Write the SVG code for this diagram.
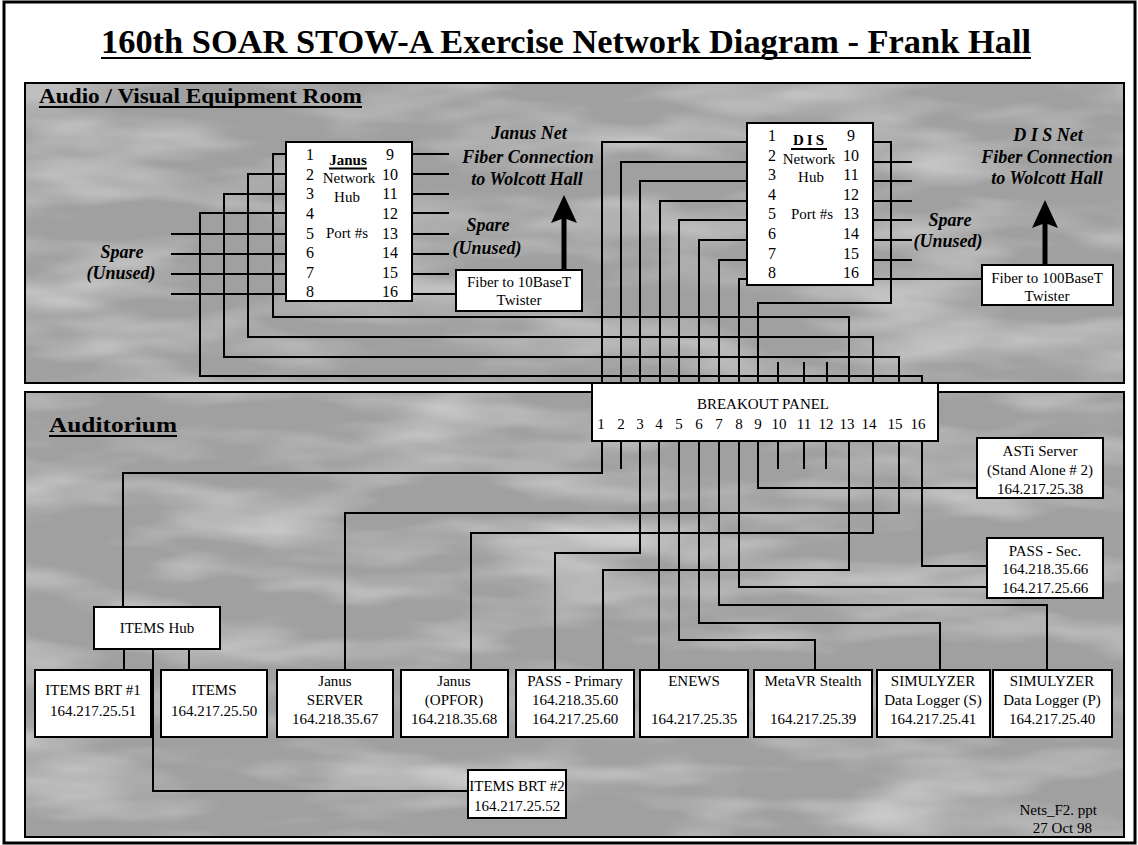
<svg xmlns="http://www.w3.org/2000/svg" width="1138" height="845" viewBox="0 0 1138 845">
<style>
.panel{fill:#a0a0a0;stroke:#000;stroke-width:2}
.box{fill:#fff;stroke:#000;stroke-width:2}
.w{fill:none;stroke:#000;stroke-width:2}
.t{font-family:"Liberation Serif","Times New Roman",serif;fill:#000}
.n{font-size:16px;text-anchor:middle}
.b{font-size:15px;text-anchor:middle}
.bi{font-size:18px;font-weight:bold;font-style:italic;text-anchor:middle}
.ul{stroke:#000;stroke-width:2}
</style>
<defs>
<filter id="mottle" x="0" y="0" width="100%" height="100%">
<feTurbulence type="fractalNoise" baseFrequency="0.006 0.025" numOctaves="3" seed="7" result="n"/>
<feColorMatrix in="n" type="matrix" values="0 0 0 0 1  0 0 0 0 1  0 0 0 0 1  1.0 0 0 0 -0.42"/>
</filter>
</defs>
<rect x="0" y="0" width="1138" height="845" fill="#fff"/>
<g id="frame"><rect x="4" y="2" width="1131" height="841" fill="none" stroke="#000" stroke-width="3"/></g>
<g id="title">
<text class="t" x="101" y="53" font-size="34" font-weight="bold" textLength="930" lengthAdjust="spacingAndGlyphs">160th SOAR STOW-A Exercise Network Diagram - Frank Hall</text>
<line class="ul" x1="101" y1="58" x2="1031" y2="58" stroke-width="2.5"/>
</g>
<g id="av-room">
<rect class="panel" x="25" y="83" width="1099" height="300"/>
<rect x="26" y="84" width="1097" height="298" fill="#fff" filter="url(#mottle)"/>
<text class="t" x="39" y="103" font-size="20" font-weight="bold" textLength="323" lengthAdjust="spacingAndGlyphs">Audio / Visual  Equipment  Room</text>
<line class="ul" x1="39" y1="107" x2="362" y2="107"/>
</g>
<g id="auditorium">
<rect class="panel" x="25" y="392" width="1099" height="445"/>
<rect x="26" y="393" width="1097" height="443" fill="#fff" filter="url(#mottle)"/>
<text class="t" x="49" y="432" font-size="21" font-weight="bold" textLength="128" lengthAdjust="spacingAndGlyphs">Auditorium</text>
<line class="ul" x1="49" y1="436" x2="177" y2="436"/>
</g>
<g id="connectors">
<path class="w" d="M286,154H273V317H849V383"/>
<path class="w" d="M286,174H248V337H873V383"/>
<path class="w" d="M286,194H224V357H899V383"/>
<path class="w" d="M286,213H200V376H922V383"/>
<path class="w" d="M171,234H286M171,254H286M171,274H286M171,294H286"/>
<path class="w" d="M412,154H449M412,174H449M412,194H449M412,213H449M412,234H449M412,254H449M412,274H449M412,294H456"/>
<path class="w" d="M747,142H602V383"/>
<path class="w" d="M747,162H621V383"/>
<path class="w" d="M747,181H640V383"/>
<path class="w" d="M747,201H660V383"/>
<path class="w" d="M747,220H679V383"/>
<path class="w" d="M747,240H699V383"/>
<path class="w" d="M747,260H719V383"/>
<path class="w" d="M747,279H739V383"/>
<path class="w" d="M873,142H891V303H758V383"/>
<path class="w" d="M873,162H912M873,181H912M873,201H912M873,220H912M873,240H912M873,260H912M873,279H982"/>
<path class="w" d="M778,362V383M804,362V383M827,362V383"/>
<path class="w" d="M602,441V473H123V607"/>
<path class="w" d="M621,441V469M778,441V469M804,441V469M826,441V469"/>
<path class="w" d="M640,441V553H555V670"/>
<path class="w" d="M659,441V670"/>
<path class="w" d="M679,441V640H815V670"/>
<path class="w" d="M699,441V623H940V670"/>
<path class="w" d="M719,441V605H1047V670"/>
<path class="w" d="M739,441V587H987"/>
<path class="w" d="M758,441V488H977"/>
<path class="w" d="M849,441V570H603V670"/>
<path class="w" d="M873,441V533H471V670"/>
<path class="w" d="M899,441V513H345V670"/>
<path class="w" d="M922,441V566H987"/>
<path class="w" d="M124,649V670M189,649V670M153,649V791H468"/>
</g>
<g id="janus-hub">
<rect class="box" x="286" y="142" width="126" height="159"/>
<g class="t n">
<text x="310" y="160">1</text><text x="310" y="180">2</text><text x="310" y="199">3</text><text x="310" y="219">4</text>
<text x="310" y="239">5</text><text x="310" y="258">6</text><text x="310" y="278">7</text><text x="310" y="297">8</text>
<text x="390" y="160">9</text><text x="390" y="180">10</text><text x="390" y="199">11</text><text x="390" y="219">12</text>
<text x="390" y="239">13</text><text x="390" y="258">14</text><text x="390" y="278">15</text><text x="390" y="297">16</text>
</g>
<text class="t b" x="348" y="165" font-weight="bold">Janus</text>
<line class="ul" x1="329" y1="168.5" x2="367" y2="168.5" stroke-width="1.5"/>
<text class="t b" x="349" y="183" font-size="14">Network</text>
<text class="t b" x="347" y="202">Hub</text>
<text class="t b" x="347" y="238">Port #s</text>
</g>
<g id="dis-hub">
<rect class="box" x="747" y="123" width="126" height="162"/>
<g class="t n">
<text x="772" y="141">1</text><text x="772" y="161">2</text><text x="772" y="180">3</text><text x="772" y="200">4</text>
<text x="772" y="219">5</text><text x="772" y="239">6</text><text x="772" y="259">7</text><text x="772" y="278">8</text>
<text x="851" y="141">9</text><text x="851" y="161">10</text><text x="851" y="180">11</text><text x="851" y="200">12</text>
<text x="851" y="219">13</text><text x="851" y="239">14</text><text x="851" y="259">15</text><text x="851" y="278">16</text>
</g>
<text class="t b" x="810" y="145" font-weight="bold" letter-spacing="3">DIS</text>
<line class="ul" x1="791" y1="149" x2="827" y2="149" stroke-width="1.5"/>
<text class="t b" x="809" y="164" font-size="14">Network</text>
<text class="t b" x="811" y="182">Hub</text>
<text class="t b" x="812" y="219">Port #s</text>
</g>
<g id="janus-fiber">
<rect class="box" x="456" y="270" width="126" height="41"/>
<text class="t b" x="519" y="287">Fiber to 10BaseT</text>
<text class="t b" x="519" y="305">Twister</text>
<polygon points="564,195 577,223 566.5,219 566.5,270 561.5,270 561.5,219 551,223" fill="#000"/>
<text class="t bi" x="529" y="139">Janus Net</text>
<text class="t bi" x="528" y="163">Fiber Connection</text>
<text class="t bi" x="527" y="185">to Wolcott Hall</text>
<text class="t bi" x="488" y="231">Spare</text>
<text class="t bi" x="487" y="254">(Unused)</text>
</g>
<g id="dis-fiber">
<rect class="box" x="982" y="265" width="131" height="40"/>
<text class="t b" x="1047" y="283">Fiber to 100BaseT</text>
<text class="t b" x="1047" y="301">Twister</text>
<polygon points="1045,200 1058,228 1047.5,224 1047.5,265 1042.5,265 1042.5,224 1032,228" fill="#000"/>
<text class="t bi" x="1048" y="141">D I S Net</text>
<text class="t bi" x="1047" y="163">Fiber Connection</text>
<text class="t bi" x="1047" y="184">to Wolcott Hall</text>
<text class="t bi" x="950" y="226">Spare</text>
<text class="t bi" x="948" y="247">(Unused)</text>
</g>
<g id="spare-left">
<text class="t bi" x="122" y="258">Spare</text>
<text class="t bi" x="121" y="279">(Unused)</text>
</g>
<g id="breakout-panel">
<rect class="box" x="592" y="383" width="346" height="58"/>
<text class="t b" x="763" y="409" font-size="16">BREAKOUT PANEL</text>
<g class="t b" font-size="16">
<text x="601" y="429">1</text><text x="621" y="429">2</text><text x="640" y="429">3</text><text x="659" y="429">4</text>
<text x="679" y="429">5</text><text x="699" y="429">6</text><text x="719" y="429">7</text><text x="739" y="429">8</text>
<text x="758" y="429">9</text><text x="779" y="429">10</text><text x="804" y="429">11</text><text x="826" y="429">12</text>
<text x="847" y="429">13</text><text x="869" y="429">14</text><text x="895" y="429">15</text><text x="918" y="429">16</text>
</g>
</g>
<g id="asti-server">
<rect class="box" x="977" y="438" width="126" height="60"/>
<text class="t b" x="1040" y="456">ASTi  Server</text>
<text class="t b" x="1040" y="475">(Stand Alone # 2)</text>
<text class="t b" x="1040" y="494">164.217.25.38</text>
</g>
<g id="pass-sec">
<rect class="box" x="987" y="538" width="116" height="60"/>
<text class="t b" x="1045" y="556">PASS - Sec.</text>
<text class="t b" x="1045" y="574">164.218.35.66</text>
<text class="t b" x="1045" y="593">164.217.25.66</text>
</g>
<g id="items-hub">
<rect class="box" x="94" y="607" width="126" height="42"/>
<text class="t b" x="157" y="633">ITEMS Hub</text>
</g>
<g id="items-brt1">
<rect class="box" x="35" y="670" width="116" height="67"/>
<text class="t b" x="93" y="695">ITEMS  BRT #1</text>
<text class="t b" x="93" y="716">164.217.25.51</text>
</g>
<g id="items">
<rect class="box" x="161" y="670" width="106" height="67"/>
<text class="t b" x="214" y="695">ITEMS</text>
<text class="t b" x="214" y="716">164.217.25.50</text>
</g>
<g id="janus-server">
<rect class="box" x="277" y="670" width="116" height="67"/>
<text class="t b" x="335" y="686">Janus</text>
<text class="t b" x="335" y="705">SERVER</text>
<text class="t b" x="335" y="724">164.218.35.67</text>
</g>
<g id="janus-opfor">
<rect class="box" x="401" y="670" width="107" height="67"/>
<text class="t b" x="454" y="686">Janus</text>
<text class="t b" x="454" y="705">(OPFOR)</text>
<text class="t b" x="454" y="724">164.218.35.68</text>
</g>
<g id="pass-primary">
<rect class="box" x="516" y="670" width="118" height="67"/>
<text class="t b" x="575" y="686">PASS - Primary</text>
<text class="t b" x="575" y="705">164.218.35.60</text>
<text class="t b" x="575" y="724">164.217.25.60</text>
</g>
<g id="enews">
<rect class="box" x="640" y="670" width="108" height="67"/>
<text class="t b" x="694" y="686">ENEWS</text>
<text class="t b" x="694" y="724">164.217.25.35</text>
</g>
<g id="metavr">
<rect class="box" x="754" y="670" width="118" height="67"/>
<text class="t b" x="813" y="686">MetaVR Stealth</text>
<text class="t b" x="813" y="724">164.217.25.39</text>
</g>
<g id="simulyzer-s">
<rect class="box" x="877" y="670" width="113" height="67"/>
<text class="t b" x="933" y="686">SIMULYZER</text>
<text class="t b" x="933" y="705">Data Logger (S)</text>
<text class="t b" x="933" y="724">164.217.25.41</text>
</g>
<g id="simulyzer-p">
<rect class="box" x="993" y="670" width="119" height="67"/>
<text class="t b" x="1052" y="686">SIMULYZER</text>
<text class="t b" x="1052" y="705">Data Logger (P)</text>
<text class="t b" x="1052" y="724">164.217.25.40</text>
</g>
<g id="items-brt2">
<rect class="box" x="468" y="770" width="98" height="48"/>
<text class="t b" x="517" y="791">ITEMS  BRT #2</text>
<text class="t b" x="517" y="811">164.217.25.52</text>
</g>
<g id="footer">
<text class="t" x="1097" y="815" font-size="15" text-anchor="end">Nets_F2. ppt</text>
<text class="t" x="1092" y="833" font-size="15" text-anchor="end">27 Oct  98</text>
</g>
</svg>
